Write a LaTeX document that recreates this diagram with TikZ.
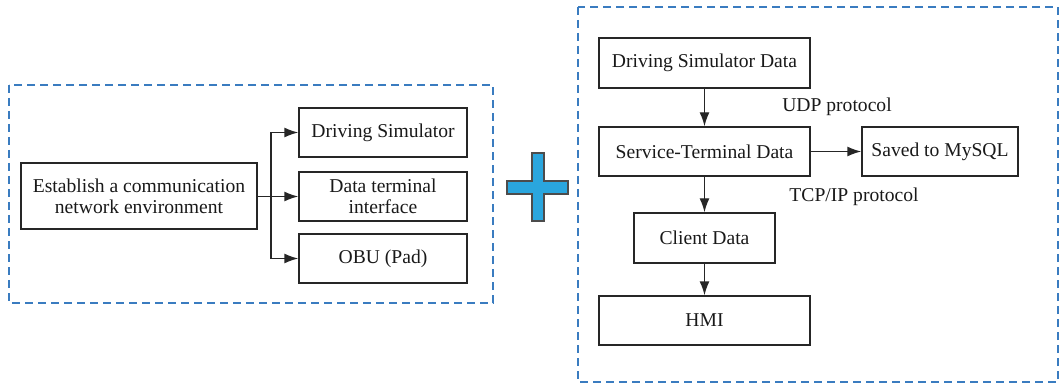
\documentclass[tikz,border=0pt]{standalone}
\usepackage{fontspec}
\setmainfont{Liberation Serif}
\usetikzlibrary{arrows.meta}
\definecolor{dashblue}{HTML}{3A7CC0}
\definecolor{plusblue}{HTML}{2AA6DE}
\begin{document}
\begin{tikzpicture}[x=1pt,y=-1pt,
  box/.style={draw=black!85,line width=1.4pt,inner sep=0pt,align=center,font=\fontsize{19.6}{21}\selectfont,text=black!90},
  arr/.style={line width=1.4pt,draw=black!85,-{Latex[length=14pt,width=10pt]}},
  frame/.style={draw=dashblue,line width=1.4pt,dash pattern=on 8pt off 5pt},
  lbl/.style={font=\fontsize{19.6}{21}\selectfont,text=black!90,inner sep=0pt}]
\useasboundingbox (0,0) rectangle (1061,385);
% frames
\draw[frame] (9,85) rectangle (493,303);
\draw[frame] (578,7) rectangle (1058,382);
% left part
\node[box,minimum width=236pt,minimum height=66pt] (est) at (139,196) {Establish a communication\\network environment};
\node[box,minimum width=168pt,minimum height=49pt] (ds) at (383,132.5) {Driving Simulator};
\node[box,minimum width=168pt,minimum height=49pt] (dt) at (383,196.5) {Data terminal\\interface};
\node[box,minimum width=168pt,minimum height=49pt] (obu) at (383,258.5) {OBU (Pad)};
\coordinate (j) at (271,196.5);
\draw[line width=1.4pt,draw=black!85] (est.east |- j) -- (j);
\draw[arr] (j) |- (ds.west);
\draw[arr] (j) -- (dt.west);
\draw[arr] (j) |- (obu.west);
% plus
\draw[fill=plusblue,draw=black!70,line width=1.2pt]
  (532,153) -- (544,153) -- (544,181) -- (568,181) -- (568,194) -- (544,194)
  -- (544,221) -- (532,221) -- (532,194) -- (507,194) -- (507,181) -- (532,181) -- cycle;
% right part
\node[box,minimum width=211pt,minimum height=50pt] (dsd) at (704.5,63) {Driving Simulator Data};
\node[box,minimum width=211pt,minimum height=49pt] (std) at (704.5,151.5) {Service-Terminal Data};
\node[box,minimum width=156pt,minimum height=49pt] (sql) at (940,151.5) {Saved to MySQL};
\node[box,minimum width=141pt,minimum height=50pt] (cd) at (704.5,238) {Client Data};
\node[box,minimum width=211pt,minimum height=49pt] (hmi) at (704.5,320.5) {HMI};
\draw[arr] (dsd) -- (std);
\draw[arr] (std) -- (sql);
\draw[arr] (std) -- (cd);
\draw[arr] (cd) -- (hmi);
\node[lbl] (udp) at (837,107) {UDP protocol};
\node[lbl] (tcp) at (854,197) {TCP/IP protocol};
\end{tikzpicture}
\end{document}
